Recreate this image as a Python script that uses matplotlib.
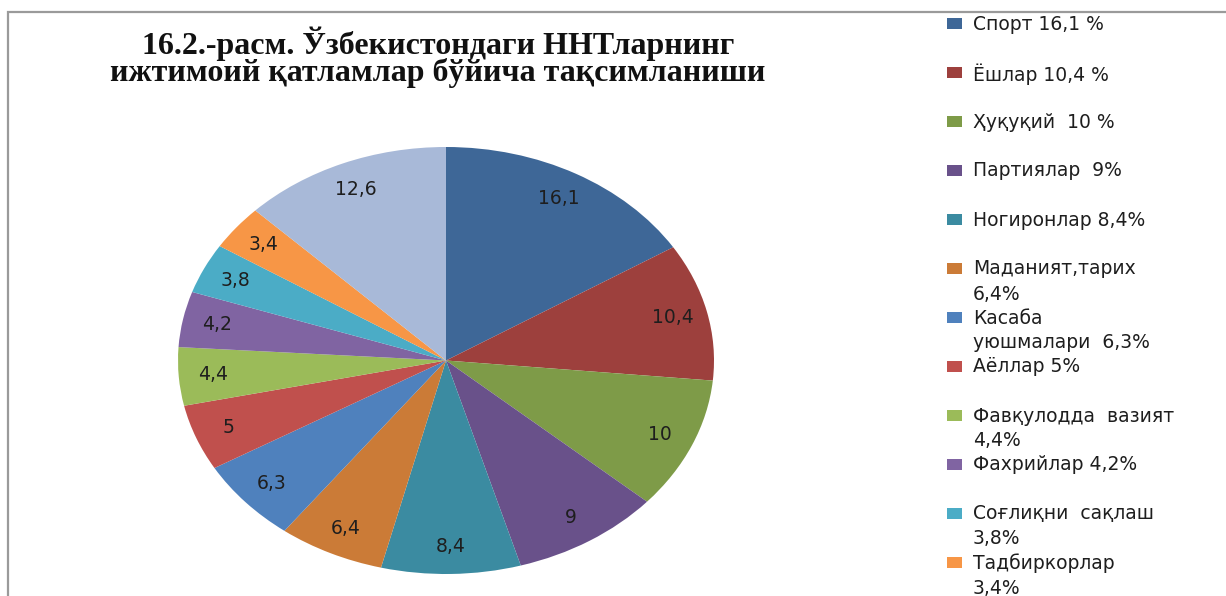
import matplotlib
matplotlib.use("Agg")
import matplotlib.pyplot as plt
from matplotlib.patches import Rectangle

# Shares of NGOs by social sphere, percent
values = [16.1, 10.4, 10, 9, 8.4, 6.4, 6.3, 5, 4.4, 4.2, 3.8, 3.4, 12.6]
legend_labels = [
    "Спорт 16,1 %",
    "Ёшлар 10,4 %",
    "Ҳуқуқий  10 %",
    "Партиялар  9%",
    "Ногиронлар 8,4%",
    "Маданият,тарих\n6,4%",
    "Касаба\nуюшмалари  6,3%",
    "Аёллар 5%",
    "Фавқулодда  вазият\n4,4%",
    "Фахрийлар 4,2%",
    "Соғлиқни  сақлаш\n3,8%",
    "Тадбиркорлар\n3,4%",
]
colors = [
    "#3E6797", "#9D403D", "#7E9B48", "#69518A", "#3B8BA1", "#CB7B37",
    "#4F81BD", "#C0504D", "#9BBB59", "#8064A2", "#4BACC6", "#F79646",
    "#A8B9D8",
]
title = "16.2.-расм. Ўзбекистондаги ННТларнинг\nижтимоий қатламлар бўйича тақсимланиши"

sans = ["DejaVu Sans"]
plt.rcParams["font.family"] = sans

W, H = 1226, 596
fig = plt.figure(figsize=(W / 100, H / 100), dpi=100)
fig.patch.set_facecolor("white")

# chart frame (left and top edges visible)
fig.add_artist(Rectangle((8 / W, -0.1), 1.2, (H - 12) / H + 0.1,
                         transform=fig.transFigure, fill=False,
                         edgecolor="#9a9a9a", linewidth=1.6))


def fmt(pct):
    s = f"{pct:.1f}"
    if s.endswith(".0"):
        s = s[:-2]
    return s.replace(".", ",")


ax = fig.add_axes([178 / W, 22 / H, 536 / W, 427 / H])
wedges, _, autotexts = ax.pie(
    values, colors=colors, startangle=90, counterclock=False,
    autopct=fmt, pctdistance=0.87, radius=1,
    wedgeprops=dict(linewidth=0),
    textprops=dict(fontsize=13.5, color="#1e1e1e"),
)
ax.set_aspect("auto")
ax.set_xlim(-1, 1)
ax.set_ylim(-1, 1)

fig.text(438 / W, 1 - 57 / H, title, ha="center", va="center",
         fontsize=23, fontweight="bold", family=["Liberation Serif", "DejaVu Serif"],
         linespacing=0.86, color="#111111")

# legend column
x_box, x_txt = 947, 973
y0, dy = 23.5, 49
for i, (lab, col) in enumerate(zip(legend_labels, colors)):
    yc = y0 + i * dy
    fig.add_artist(Rectangle((x_box / W, 1 - (yc + 5.5) / H), 15 / W, 11 / H,
                             transform=fig.transFigure, facecolor=col,
                             edgecolor="none"))
    fig.text(x_txt / W, 1 - (yc - 9) / H, lab, ha="left", va="top",
             fontsize=13.5, color="#1e1e1e", linespacing=1.4)

fig.savefig("out.png", dpi=100, facecolor="white")
